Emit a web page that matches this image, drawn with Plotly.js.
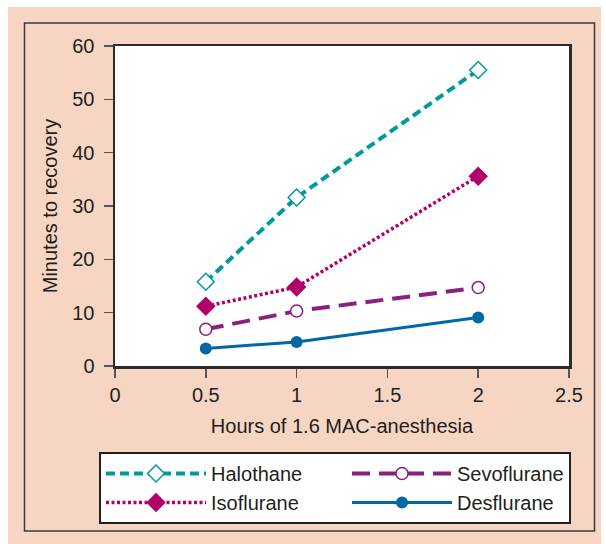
<!DOCTYPE html>
<html>
<head>
<meta charset="utf-8">
<script src="https://cdn.plot.ly/plotly-3.0.1.min.js"></script>
<style>html,body{margin:0;padding:0;background:#fff;}#chart{width:606px;height:544px;}</style>
</head>
<body>
<div id="chart"></div>
<script>
const hours = [0.5, 1, 2];
const halothane = [15.8, 31.6, 55.5];
const isoflurane = [11.2, 14.8, 35.6];
const sevoflurane = [6.9, 10.3, 14.7];
const desflurane = [3.3, 4.5, 9.1];
const seriesNames = ['Halothane', 'Sevoflurane', 'Isoflurane', 'Desflurane'];
const xTicks = [0, 0.5, 1, 1.5, 2, 2.5];
const xTickText = ['0', '0.5', '1', '1.5', '2', '2.5'];
const yTicks = [0, 10, 20, 30, 40, 50, 60];

const font = {family: 'Liberation Sans, Arial, sans-serif', size: 20, color: '#231f20'};

const traces = [
  {x: hours, y: halothane, name: seriesNames[0], mode: 'lines+markers', legendwidth: 131,
   line: {color: '#00999e', width: 4, dash: '9px,5px'},
   marker: {symbol: 'diamond', size: 13, color: '#ffffff', line: {color: '#00999e', width: 1.5}}},
  {x: hours, y: sevoflurane, name: seriesNames[1], mode: 'lines+markers',
   line: {color: '#8a1f80', width: 4, dash: '18px,9px'},
   marker: {symbol: 'circle', size: 12, color: '#ffffff', line: {color: '#8a1f80', width: 1.5}}},
  {x: hours, y: isoflurane, name: seriesNames[2], mode: 'lines+markers', legendwidth: 131,
   line: {color: '#b2006b', width: 3.5, dash: '3px,2.5px'},
   marker: {symbol: 'diamond', size: 15, color: '#b2006b'}},
  {x: hours, y: desflurane, name: seriesNames[3], mode: 'lines+markers',
   line: {color: '#0068a6', width: 3},
   marker: {symbol: 'circle', size: 12, color: '#0068a6'}}
];

const L = 115, R = 37, T = 46, B = 178, W = 606, H = 544;
const pw = W - L - R, ph = H - T - B;
const fx = px => (px - L) / pw;
const fy = py => (H - B - py) / ph;

const layout = {
  width: W, height: H,
  margin: {l: L, r: R, t: T, b: B, pad: 0},
  paper_bgcolor: '#ffffff',
  plot_bgcolor: 'rgba(0,0,0,0)',
  font: font,
  showlegend: true,
  xaxis: {
    range: [0, 2.5], tickvals: xTicks, ticktext: xTickText,
    showgrid: false, zeroline: false,
    showline: true, mirror: true, linecolor: '#2b2b2b', linewidth: 2.5,
    ticks: 'outside', ticklen: 9, tickwidth: 1.5, tickcolor: '#555',
    tickfont: font,
    title: {text: 'Hours of 1.6 MAC-anesthesia', font: font, standoff: 15}
  },
  yaxis: {
    range: [0, 60], tickvals: yTicks,
    showgrid: false, zeroline: false,
    showline: true, mirror: true, linecolor: '#2b2b2b', linewidth: 2.5,
    ticks: 'outside', ticklen: 9, tickwidth: 1.5, tickcolor: '#555',
    ticklabelstandoff: 5,
    tickfont: font,
    title: {text: 'Minutes to recovery', font: font, standoff: 10}
  },
  legend: {
    orientation: 'h', x: fx(99), y: fy(452), xanchor: 'left', yanchor: 'top',
    bgcolor: '#ffffff', bordercolor: '#222', borderwidth: 2,
    itemwidth: 100, font: font, traceorder: 'normal'
  },
  shapes: [
    {type: 'rect', xref: 'paper', yref: 'paper', layer: 'below',
     x0: fx(8), x1: fx(601), y0: fy(544), y1: fy(7),
     fillcolor: '#f7d5c3', line: {width: 0}},
    {type: 'rect', xref: 'paper', yref: 'paper', layer: 'below',
     x0: 0, x1: 1, y0: 0, y1: 1,
     fillcolor: '#ffffff', line: {width: 0}},
    {type: 'rect', xref: 'paper', yref: 'paper', layer: 'below',
     x0: fx(24.5), x1: fx(594.5), y0: fy(531), y1: fy(23),
     fillcolor: 'rgba(0,0,0,0)', line: {color: '#3a3a3a', width: 1.5}}
  ]
};

Plotly.newPlot('chart', traces, layout, {displayModeBar: false, staticPlot: true});
</script>
</body>
</html>
